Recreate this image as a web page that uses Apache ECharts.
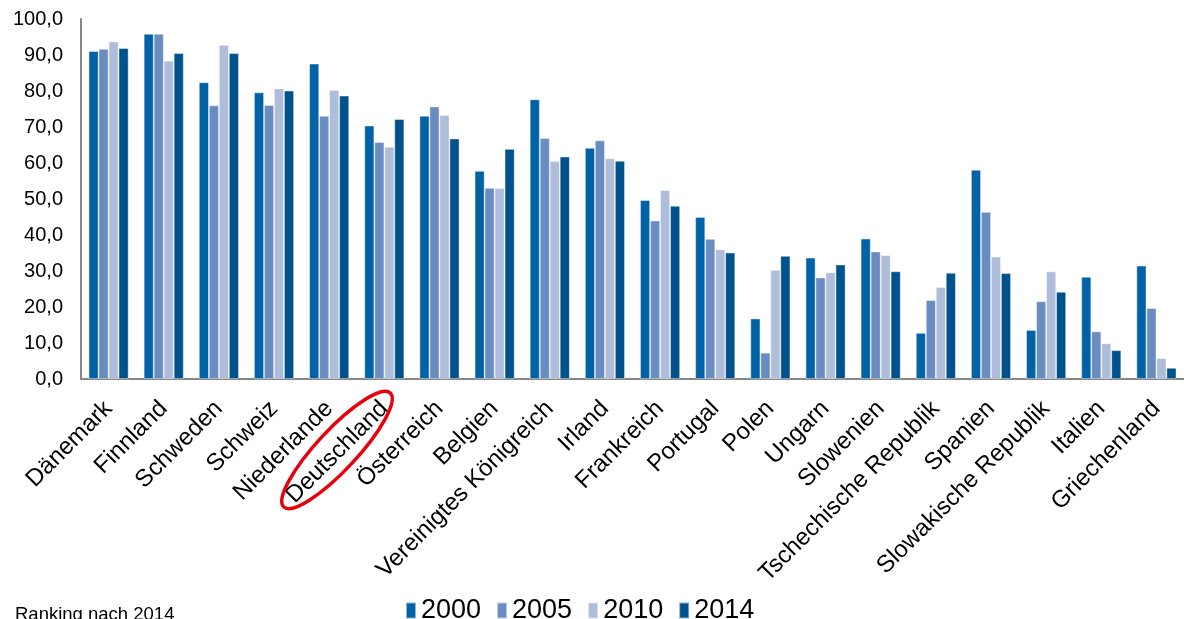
<!DOCTYPE html>
<html>
<head>
<meta charset="utf-8">
<script src="https://cdn.jsdelivr.net/npm/echarts@6/dist/echarts.min.js"></script>
<style>
  html, body { margin: 0; padding: 0; background: #fff; }
  #chart { width: 1184px; height: 619px; }
</style>
</head>
<body>
<div id="chart"></div>
<script>
// Länder, sortiert nach 2014
var laender = ['Dänemark', 'Finnland', 'Schweden', 'Schweiz', 'Niederlande', 'Deutschland', 'Österreich',
  'Belgien', 'Vereinigtes Königreich', 'Irland', 'Frankreich', 'Portugal', 'Polen', 'Ungarn',
  'Slowenien', 'Tschechische Republik', 'Spanien', 'Slowakische Republik', 'Italien', 'Griechenland'];
var jahre = ['2000', '2005', '2010', '2014'];

var werte2000 = [91.1, 95.9, 82.4, 79.6, 87.6, 70.4, 73.1, 57.8, 77.7, 64.2, 49.7, 45.0, 16.8, 33.7, 39.0, 12.8, 58.1, 13.6, 28.4, 31.5];
var werte2005 = [91.7, 95.9, 76.0, 76.1, 73.1, 65.8, 75.7, 53.1, 66.9, 66.3, 44.0, 38.9, 7.3, 28.2, 35.4, 21.9, 46.4, 21.6, 13.2, 19.7];
var werte2010 = [93.7, 88.4, 92.8, 80.7, 80.3, 64.5, 73.3, 53.0, 60.5, 61.3, 52.5, 36.0, 30.3, 29.6, 34.4, 25.5, 34.0, 29.9, 9.9, 5.8];
var werte2014 = [91.9, 90.5, 90.5, 80.1, 78.7, 72.2, 66.8, 63.9, 61.8, 60.6, 48.1, 35.1, 34.2, 31.8, 29.9, 29.5, 29.4, 24.2, 8.0, 3.1];

var farben = ['#0063A8', '#6A8DC1', '#AEBDD9', '#00528C'];
var font = 'Arial, "Liberation Sans", sans-serif';

var chartDom = document.getElementById('chart');
var myChart = echarts.init(chartDom);

function reihe(i, daten) {
  return {
    name: jahre[i],
    type: 'bar',
    data: daten,
    barWidth: 10,
    barGap: '0%',
    itemStyle: { color: farben[i], borderColor: 'rgba(255,255,255,0.55)', borderWidth: 0.8 },
    emphasis: { disabled: true }
  };
}

var option = {
  animation: false,
  textStyle: { fontFamily: font },
  grid: { left: 81, top: 19, width: 1108, height: 360 },
  legend: {
    data: jahre,
    left: 400,
    top: 592,
    icon: 'rect',
    itemWidth: 10,
    itemHeight: 16,
    itemGap: 15,
    textStyle: { fontSize: 27, color: '#000', fontFamily: font }
  },
  xAxis: {
    type: 'category',
    data: laender,
    axisLine: { lineStyle: { color: '#868686', width: 2 } },
    axisTick: { show: false },
    axisLabel: { interval: 0, rotate: 45, fontSize: 24, color: '#000', margin: 26, fontFamily: font }
  },
  yAxis: {
    type: 'value',
    min: 0,
    max: 100,
    interval: 10,
    axisLine: { show: true, lineStyle: { color: '#868686', width: 2 } },
    axisTick: { show: false },
    splitLine: { show: false },
    axisLabel: {
      fontSize: 20, color: '#000', margin: 18, fontFamily: font,
      formatter: function (v) { return v.toFixed(1).replace('.', ','); }
    }
  },
  graphic: [
    {
      type: 'text',
      left: 15,
      top: 605,
      style: { text: 'Ranking nach 2014', fontSize: 18.5, fill: '#000', fontFamily: font }
    },
    {
      type: 'ellipse',
      x: 337,
      y: 450,
      rotation: 0.82,
      shape: { cx: 0, cy: 0, rx: 78, ry: 20 },
      style: { fill: 'none', stroke: '#E8000B', lineWidth: 3.5 },
      z: 100
    }
  ],
  series: [
    reihe(0, werte2000),
    reihe(1, werte2005),
    reihe(2, werte2010),
    reihe(3, werte2014)
  ]
};

myChart.setOption(option);
</script>
</body>
</html>
